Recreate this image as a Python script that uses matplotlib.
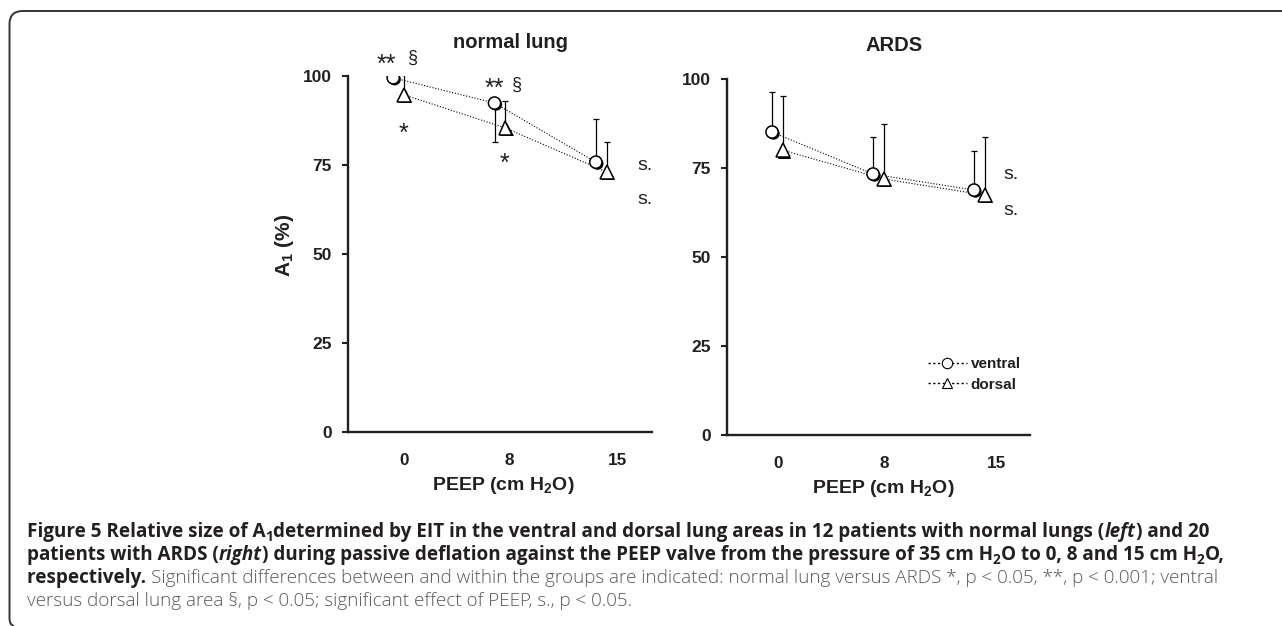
import matplotlib
matplotlib.use("Agg")
import matplotlib.pyplot as plt
import matplotlib.patheffects as pe
import matplotlib.transforms as mtransforms
from matplotlib.lines import Line2D
from matplotlib.path import Path
from matplotlib.patches import PathPatch

plt.rcParams['font.family'] = ['Liberation Sans', 'DejaVu Sans']
plt.rcParams['mathtext.default'] = 'regular'

W, H = 1282, 626

# PEEP levels (cm H2O)
peep_labels = ['0', '8', '15']

# normal lung, mean and SD bars (%)
normal_ventral = [99.5, 92.4, 75.8]
normal_ventral_lo = [0.0, 10.9, 0.0]
normal_ventral_hi = [0.0, 0.0, 12.2]
normal_dorsal = [94.7, 85.4, 73.0]
normal_dorsal_lo = [0.0, 0.0, 0.0]
normal_dorsal_hi = [6.1, 7.6, 8.5]

# ARDS
ards_ventral = [85.1, 73.3, 68.8]
ards_ventral_lo = [0.0, 0.0, 0.0]
ards_ventral_hi = [11.2, 10.4, 11.0]
ards_dorsal = [80.0, 71.9, 67.4]
ards_dorsal_lo = [0.0, 0.0, 0.0]
ards_dorsal_hi = [15.2, 15.5, 16.3]

fig = plt.figure(figsize=(W / 100, H / 100), dpi=100)
px = mtransforms.Affine2D().scale(1 / W, -1 / H).translate(0, 1) + fig.transFigure

ax1 = fig.add_axes([348 / W, 1 - 432 / H, 304 / W, 356 / H])
ax2 = fig.add_axes([727 / W, 1 - 435 / H, 303 / W, 356 / H])

shadow = [pe.SimplePatchShadow(offset=(1.1, -1.1), shadow_rgbFace='k', alpha=1), pe.Normal()]
ink = '#231f20'


def panel(ax, ventral, v_lo, v_hi, dorsal, d_lo, d_hi, tick_pos):
    xs = list(range(len(peep_labels)))
    xv = [x - 0.054 for x in xs]
    xd = [x + 0.054 for x in xs]
    ax.plot(xv, ventral, ls=(0, (1, 1.6)), color='k', lw=0.8, zorder=1)
    ax.plot(xd, dorsal, ls=(0, (1, 1.6)), color='k', lw=0.8, zorder=1)
    ax.errorbar(xv, ventral, yerr=[v_lo, v_hi], fmt='none', ecolor='k',
                elinewidth=0.9, capsize=2.3, capthick=0.9, zorder=2)
    ax.errorbar(xd, dorsal, yerr=[d_lo, d_hi], fmt='none', ecolor='k',
                elinewidth=0.9, capsize=2.3, capthick=0.9, zorder=2)
    ax.plot(xv, ventral, ls='none', marker='o', ms=8.8, mfc='white', mec='k',
            mew=1.1, zorder=4, path_effects=shadow)
    ax.plot(xd, dorsal, ls='none', marker='^', ms=9.8, mfc='white', mec='k',
            mew=1.1, zorder=3, path_effects=shadow)
    ax.set_xlim(-0.5, 2.5)
    ax.set_ylim(0, 100)
    ax.set_yticks([0, 25, 50, 75, 100])
    ax.set_xticks(tick_pos)
    ax.set_xticklabels(peep_labels)
    for s in ['top', 'right']:
        ax.spines[s].set_visible(False)
    for s in ['left', 'bottom']:
        ax.spines[s].set_linewidth(1.7)
        ax.spines[s].set_color(ink)
    ax.tick_params(axis='y', length=4.5, width=1.5, pad=7, labelsize=12.5, color=ink)
    ax.tick_params(axis='x', length=0, pad=15, labelsize=12.3)
    for lab in ax.get_xticklabels() + ax.get_yticklabels():
        lab.set_fontweight('bold')
        lab.set_color(ink)
    ax.set_xlabel('PEEP (cm H$_2$O)', fontsize=14, fontweight='bold', color=ink)


panel(ax1, normal_ventral, normal_ventral_lo, normal_ventral_hi,
      normal_dorsal, normal_dorsal_lo, normal_dorsal_hi, [0.05, 1.09, 2.16])
panel(ax2, ards_ventral, ards_ventral_lo, ards_ventral_hi,
      ards_dorsal, ards_dorsal_lo, ards_dorsal_hi, [0.01, 1.06, 2.17])

ax1.xaxis.set_label_coords(0.51, -0.122)
ax2.xaxis.set_label_coords(0.515, -0.122)
ax1.set_ylabel('A$_1$ (%)', fontsize=15, fontweight='bold', color=ink)
ax1.yaxis.set_label_coords(-0.172, 0.525)

ax1.set_title('normal lung', fontsize=14.5, fontweight='bold', color=ink, pad=20, x=0.533)
ax2.set_title('ARDS', fontsize=14.5, fontweight='bold', color=ink, pad=20, x=0.551)

# significance marks
kw = dict(ha='center', va='center', fontsize=18, color=ink, clip_on=False)
ax1.text(-0.12, 103.0, '**', **kw)
ax1.text(0.14, 104.9, '§', fontsize=13, ha='center', va='center', color=ink)
ax1.text(0.045, 83.8, '*', **kw)
ax1.text(0.94, 96.5, '**', **kw)
ax1.text(1.17, 97.5, '§', fontsize=13, ha='center', va='center', color=ink)
ax1.text(1.04, 75.4, '*', **kw)
kw_s = dict(ha='center', va='center', fontsize=14, color=ink, clip_on=False)
ax1.text(2.43, 75.0, 's.', **kw_s)
ax1.text(2.43, 65.2, 's.', **kw_s)
ax2.text(2.31, 73.3, 's.', **kw_s)
ax2.text(2.31, 63.2, 's.', **kw_s)

handles = [
    Line2D([], [], ls=(0, (1.6, 1.8)), color='k', lw=1.0, marker='o', ms=7.5,
           mfc='white', mec='k', mew=0.8),
    Line2D([], [], ls=(0, (1.6, 1.8)), color='k', lw=1.0, marker='^', ms=7.5,
           mfc='white', mec='k', mew=0.8),
]
leg = fig.legend(handles, ['ventral', 'dorsal'], loc='upper left',
                 bbox_to_anchor=(928 / W, 1 - 357 / H), frameon=False,
                 handlelength=2.55, handletextpad=0.25, borderpad=0,
                 borderaxespad=0, labelspacing=0.44,
                 prop={'weight': 'bold', 'size': 11})
for t in leg.get_texts():
    t.set_color(ink)

# rounded frame
verts = [(W, 11), (23, 11), (9.5, 11), (9.5, 24), (9.5, 618), (9.5, 625), (14, 626)]
codes = [Path.MOVETO, Path.LINETO, Path.CURVE3, Path.CURVE3,
         Path.LINETO, Path.CURVE3, Path.CURVE3]
fig.patches.append(PathPatch(Path(verts, codes), transform=px, fill=False,
                             lw=1.4, edgecolor='#333333'))

# caption
cap_font = ['Open Sans', 'DejaVu Sans']
cap_size = 13.6
grey = '#58595b'
B, R = 'bold', 'light'
caption_lines = [
    [('Figure 5 Relative size of A', B, 'normal', ink, False),
     ('1', B, 'normal', ink, True),
     ('determined by EIT in the ventral and dorsal lung areas in 12 patients with normal lungs (', B, 'normal', ink, False),
     ('left', B, 'italic', ink, False),
     (') and 20', B, 'normal', ink, False)],
    [('patients with ARDS (', B, 'normal', ink, False),
     ('right', B, 'italic', ink, False),
     (') during passive deflation against the PEEP valve from the pressure of 35 cm H', B, 'normal', ink, False),
     ('2', B, 'normal', ink, True),
     ('O to 0, 8 and 15 cm H', B, 'normal', ink, False),
     ('2', B, 'normal', ink, True),
     ('O,', B, 'normal', ink, False)],
    [('respectively. ', B, 'normal', ink, False),
     ('Significant differences between and within the groups are indicated: normal lung versus ARDS *, p < 0.05, **, p < 0.001; ventral', R, 'normal', grey, False)],
    [('versus dorsal lung area §, p < 0.05; significant effect of PEEP, s., p < 0.05.', R, 'normal', grey, False)],
]
baselines = [537, 560, 583, 606]

renderer = fig.canvas.get_renderer()


def advance(txt, **props):
    a = fig.text(0, 0, txt + '|', **props)
    b = fig.text(0, 0, '|', **props)
    w = a.get_window_extent(renderer).width - b.get_window_extent(renderer).width
    a.remove()
    b.remove()
    return w


for pieces, base in zip(caption_lines, baselines):
    x = 27
    for txt, weight, style, color, sub in pieces:
        size = cap_size * 0.72 if sub else cap_size
        y = base + 4 if sub else base
        props = dict(fontfamily=cap_font, fontsize=size, fontweight=weight,
                     fontstyle=style, color=color)
        fig.text(x, y, txt, transform=px, va='baseline', ha='left', **props)
        x += advance(txt, **props)

fig.savefig('out.png', dpi=100)
